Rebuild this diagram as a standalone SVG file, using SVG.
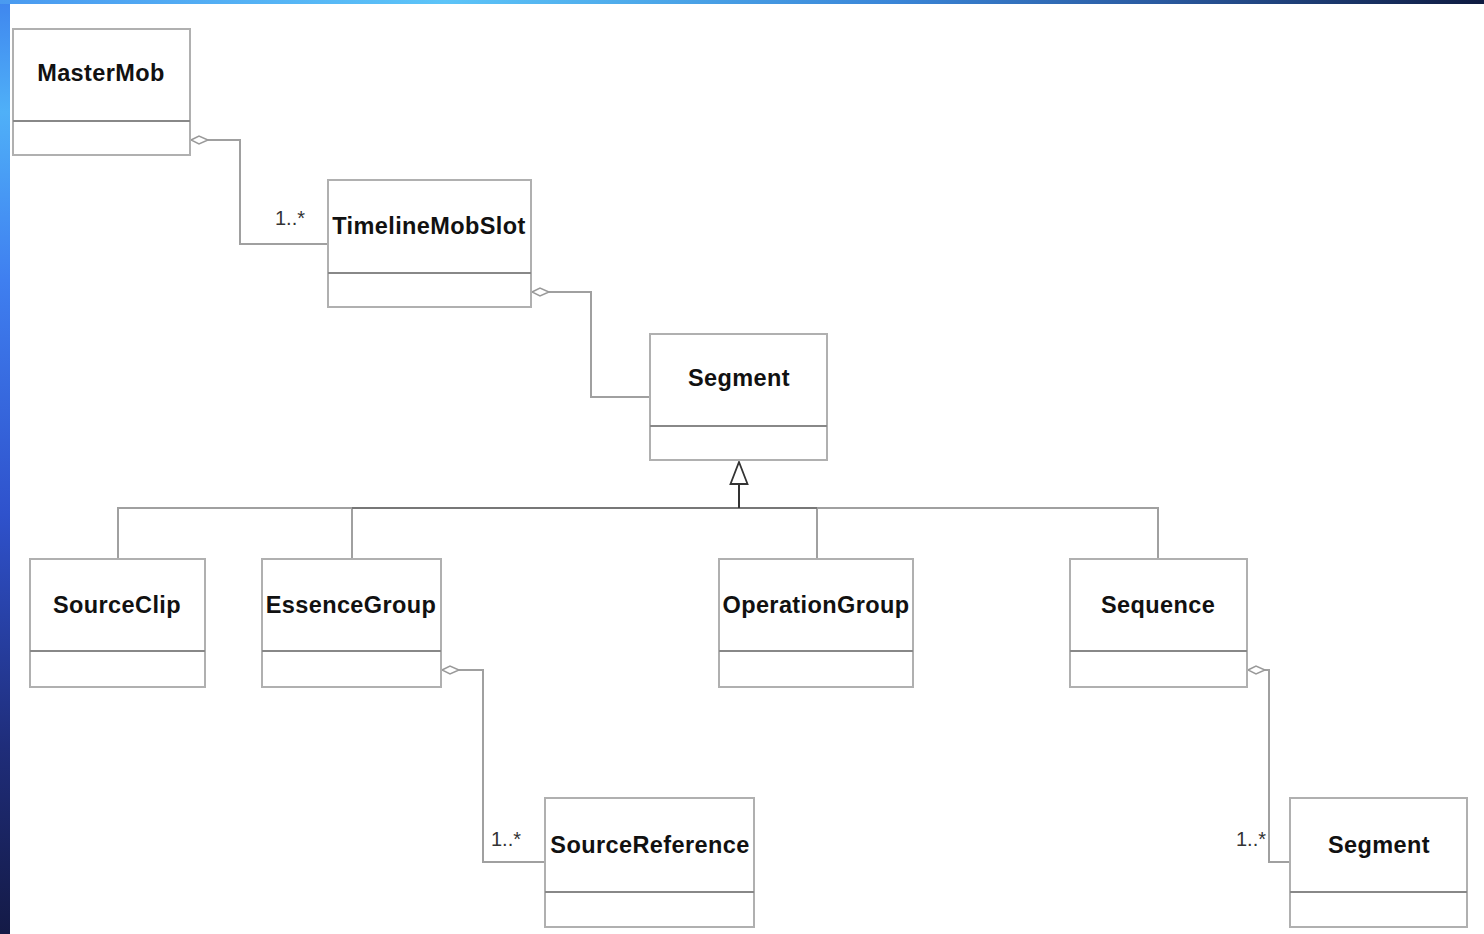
<svg xmlns="http://www.w3.org/2000/svg" width="1484" height="934" viewBox="0 0 1484 934">
<defs>
<linearGradient id="gl" x1="0" y1="0" x2="0" y2="1">
<stop offset="0" stop-color="#3f86ee"/>
<stop offset="0.12" stop-color="#4fb0f8"/>
<stop offset="0.3" stop-color="#3f7ff0"/>
<stop offset="0.55" stop-color="#2f52cc"/>
<stop offset="0.8" stop-color="#1f2d7a"/>
<stop offset="1" stop-color="#141a46"/>
</linearGradient>
<linearGradient id="gt" x1="0" y1="0" x2="1" y2="0">
<stop offset="0" stop-color="#4a9af0"/>
<stop offset="0.3" stop-color="#5cc4f8"/>
<stop offset="0.6" stop-color="#3a86d8"/>
<stop offset="0.78" stop-color="#2a5aa0"/>
<stop offset="1" stop-color="#0e1a40"/>
</linearGradient>
<marker id="dia" viewBox="0 0 20 10" refX="0" refY="5" markerWidth="20" markerHeight="10" markerUnits="userSpaceOnUse" orient="auto">
<path d="M1,5 L9,1 L18,5 L9,9 Z" fill="#fff" stroke="#999" stroke-width="1.5"/>
</marker>
</defs>
<style>
.box{fill:#fff;stroke:#b0b0b0;stroke-width:2}
.div{stroke:#888;stroke-width:2}
.nm{font-family:"Liberation Sans",Arial,sans-serif;font-weight:bold;font-size:23.5px;letter-spacing:0.4px;fill:#111;text-anchor:middle}
.lb{font-family:"Liberation Sans",Arial,sans-serif;font-size:20px;fill:#333}
.cn{fill:none;stroke:#a0a0a0;stroke-width:2}
</style>
<rect x="0" y="0" width="1484" height="934" fill="#fff"/>
<rect x="0" y="0" width="10" height="934" fill="url(#gl)"/>
<rect x="0" y="0" width="1484" height="4" fill="url(#gt)"/>

<g id="connectors">
<path class="cn" d="M190,140 L240,140 L240,244 L328,244" marker-start="url(#dia)"/>
<path class="cn" d="M531,292 L591,292 L591,397 L650,397" marker-start="url(#dia)"/>
<path class="cn" d="M441,670 L483,670 L483,862 L545,862" marker-start="url(#dia)"/>
<path class="cn" d="M1247,670 L1269,670 L1269,862 L1290,862" marker-start="url(#dia)"/>
<path class="cn" d="M118,559 L118,508 L1158,508 L1158,559"/>
<path class="cn" d="M352,559 L352,508"/>
<path class="cn" d="M817,559 L817,508"/>
<path d="M352,508 L817,508" fill="none" stroke="#777" stroke-width="2"/>
<path d="M739,508 L739,484" fill="none" stroke="#333" stroke-width="2"/>
<path d="M739,462 L747.5,484 L730.5,484 Z" fill="#fff" stroke="#333" stroke-width="1.8"/>
<text class="lb" x="275" y="225">1..*</text>
<text class="lb" x="491" y="846">1..*</text>
<text class="lb" x="1236" y="846">1..*</text>
</g>

<g id="MasterMob">
<rect class="box" x="13" y="29" width="177" height="126"/>
<line class="div" x1="13" y1="121" x2="190" y2="121"/>
<text class="nm" x="101" y="81">MasterMob</text>
</g>
<g id="TimelineMobSlot">
<rect class="box" x="328" y="180" width="203" height="127"/>
<line class="div" x1="328" y1="273" x2="531" y2="273"/>
<text class="nm" x="429" y="234">TimelineMobSlot</text>
</g>
<g id="Segment">
<rect class="box" x="650" y="334" width="177" height="126"/>
<line class="div" x1="650" y1="426" x2="827" y2="426"/>
<text class="nm" x="739" y="386">Segment</text>
</g>
<g id="SourceClip">
<rect class="box" x="30" y="559" width="175" height="128"/>
<line class="div" x1="30" y1="651" x2="205" y2="651"/>
<text class="nm" x="117" y="613">SourceClip</text>
</g>
<g id="EssenceGroup">
<rect class="box" x="262" y="559" width="179" height="128"/>
<line class="div" x1="262" y1="651" x2="441" y2="651"/>
<text class="nm" x="351" y="613">EssenceGroup</text>
</g>
<g id="OperationGroup">
<rect class="box" x="719" y="559" width="194" height="128"/>
<line class="div" x1="719" y1="651" x2="913" y2="651"/>
<text class="nm" x="816" y="613">OperationGroup</text>
</g>
<g id="Sequence">
<rect class="box" x="1070" y="559" width="177" height="128"/>
<line class="div" x1="1070" y1="651" x2="1247" y2="651"/>
<text class="nm" x="1158" y="613">Sequence</text>
</g>
<g id="SourceReference">
<rect class="box" x="545" y="798" width="209" height="129"/>
<line class="div" x1="545" y1="892" x2="754" y2="892"/>
<text class="nm" x="650" y="853">SourceReference</text>
</g>
<g id="Segment2">
<rect class="box" x="1290" y="798" width="177" height="129"/>
<line class="div" x1="1290" y1="892" x2="1467" y2="892"/>
<text class="nm" x="1379" y="853">Segment</text>
</g>
</svg>
